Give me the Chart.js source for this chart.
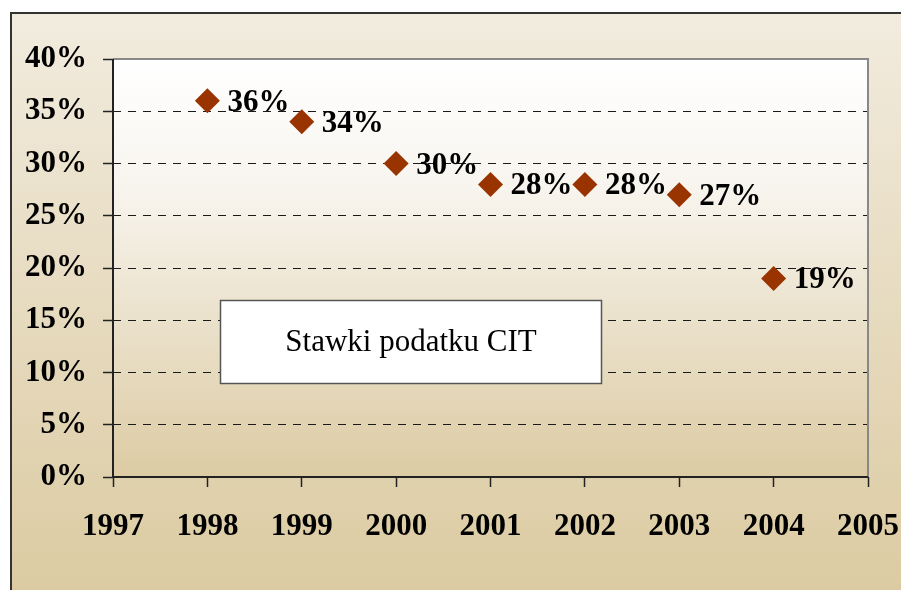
<!DOCTYPE html>
<html>
<head>
<meta charset="utf-8">
<script src="https://cdn.jsdelivr.net/npm/chart.js@4"></script>
<style>
  html, body { margin: 0; padding: 0; background: #fff; }
  #wrap { width: 901px; height: 590px; }
</style>
</head>
<body>
<div id="wrap"><canvas id="cit"></canvas></div>
<script>
const years = [1998, 1999, 2000, 2001, 2002, 2003, 2004];
const rates = [36, 34, 30, 28, 28, 27, 19];
const boxTitle = 'Stawki podatku CIT';

const FONT = '"Liberation Serif", "Times New Roman", serif';

const backgroundPlugin = {
  id: 'bg',
  beforeDraw(chart) {
    const ctx = chart.ctx;
    const { left, top, right, bottom } = chart.chartArea;
    ctx.save();
    // outer panel
    let g = ctx.createLinearGradient(0, 12, 0, 590);
    g.addColorStop(0, '#F2ECDF');
    g.addColorStop(1, '#DCCBA2');
    ctx.fillStyle = g;
    ctx.fillRect(10, 12, 901, 590);
    ctx.strokeStyle = '#333';
    ctx.lineWidth = 2;
    ctx.beginPath();
    ctx.moveTo(11, 600);
    ctx.lineTo(11, 13);
    ctx.lineTo(905, 13);
    ctx.stroke();
    // plot area
    g = ctx.createLinearGradient(0, top, 0, bottom);
    g.addColorStop(0, '#FFFFFF');
    g.addColorStop(0.3, '#F8F5EF');
    g.addColorStop(1, '#DCCBA3');
    ctx.fillStyle = g;
    ctx.fillRect(left, top, right - left, bottom - top);
    ctx.restore();
  },
  afterDatasetsDraw(chart) {
    const ctx = chart.ctx;
    const { left, top, right, bottom } = chart.chartArea;
    ctx.save();
    // frame: gray top/right, dark axes
    ctx.lineWidth = 2;
    ctx.strokeStyle = '#888';
    ctx.beginPath();
    ctx.moveTo(left, top);
    ctx.lineTo(right, top);
    ctx.lineTo(right, bottom);
    ctx.stroke();
    ctx.strokeStyle = '#222';
    ctx.beginPath();
    ctx.moveTo(left, top);
    ctx.lineTo(left, bottom);
    ctx.lineTo(right, bottom);
    ctx.stroke();

    // point labels
    const meta = chart.getDatasetMeta(0);
    ctx.font = 'bold 31px ' + FONT;
    ctx.fillStyle = '#000';
    ctx.textAlign = 'left';
    ctx.textBaseline = 'middle';
    meta.data.forEach((pt, i) => {
      ctx.fillText(rates[i] + '%', pt.x + 20, pt.y + 2);
    });

    // title box
    ctx.fillStyle = '#fff';
    ctx.fillRect(220, 300, 382, 84);
    ctx.lineWidth = 1.5;
    ctx.strokeStyle = '#555';
    ctx.strokeRect(220.5, 300.5, 381, 83);
    ctx.font = '31px ' + FONT;
    ctx.fillStyle = '#000';
    ctx.textAlign = 'center';
    ctx.fillText(boxTitle, 411, 343);
    ctx.restore();
  }
};

new Chart(document.getElementById('cit'), {
  type: 'scatter',
  data: {
    datasets: [{
      data: years.map((y, i) => ({ x: y, y: rates[i] })),
      pointStyle: 'rectRot',
      pointRadius: 12.5,
      pointHoverRadius: 12.5,
      backgroundColor: '#993300',
      borderColor: '#993300',
      borderWidth: 0
    }]
  },
  options: {
    responsive: true,
    maintainAspectRatio: false,
    animation: false,
    layout: { padding: { left: 0, top: 59, right: 33, bottom: 0 } },
    plugins: {
      legend: { display: false },
      tooltip: { enabled: false }
    },
    scales: {
      x: {
        type: 'linear',
        min: 1997,
        max: 2005,
        afterFit(scale) {
          scale.height = 113;
          scale.paddingLeft = 0;
          scale.paddingRight = 0;
        },
        grid: {
          drawOnChartArea: false,
          tickLength: 10,
          tickColor: '#222',
          tickWidth: 1.5
        },
        border: { display: false },
        ticks: {
          stepSize: 1,
          padding: 21,
          color: '#000',
          maxRotation: 0,
          font: { family: FONT, size: 31, weight: 'bold' },
          callback: v => String(v)
        }
      },
      y: {
        min: 0,
        max: 40,
        afterFit(scale) {
          scale.width = 113;
          scale.paddingTop = 0;
          scale.paddingBottom = 0;
        },
        grid: {
          color: ctx => (ctx.tick && (ctx.tick.value === 0 || ctx.tick.value === 40)) ? 'rgba(0,0,0,0)' : '#1a1a1a',
          lineWidth: 1,
          tickLength: 10,
          tickColor: '#222',
          tickWidth: 1.5
        },
        border: { display: false, dash: [8, 7] },
        ticks: {
          stepSize: 5,
          padding: 16,
          color: '#000',
          font: { family: FONT, size: 31, weight: 'bold' },
          callback: v => v + '%'
        }
      }
    }
  },
  plugins: [backgroundPlugin]
});
</script>
</body>
</html>
